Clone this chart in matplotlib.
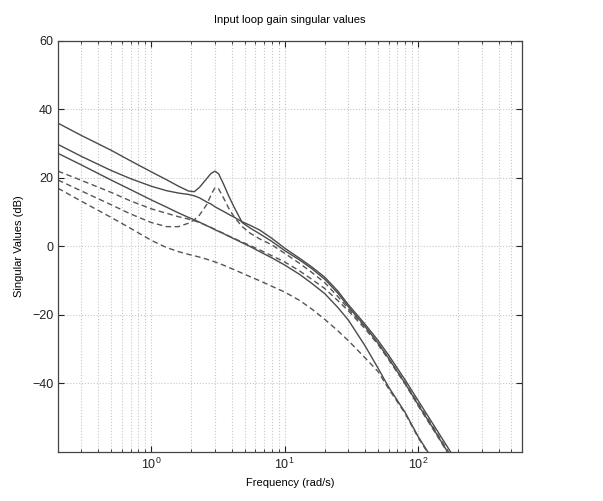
import matplotlib
matplotlib.use("Agg")
import matplotlib.pyplot as plt
from matplotlib.ticker import LogLocator, NullFormatter

plt.rcParams['font.family'] = ['Liberation Sans', 'DejaVu Sans']

# frequency grid (rad/s) at which values were read
freq = [0.2, 0.3, 0.5, 0.7, 1.0, 1.3, 1.6, 1.9, 2.1, 2.3, 2.6, 2.8, 3.0, 3.2,
        3.5, 3.8, 4.2, 4.8, 5.5, 6.5, 8, 10, 13, 16, 20, 25, 30, 40, 50, 60,
        80, 100, 130, 170, 250, 600]

# solid curves (dB)
s1 = [36.0, 32.4, 28.1, 25.0, 21.8, 19.5, 17.6, 16.2, 16.0, 17.3, 19.8, 21.3,
      22.0, 21.2, 18.0, 14.8, 11.3, 7.0, 5.4, 3.7, 1.5, -1.2, -4.0, -6.5,
      -9.6, -13.6, -17.6, -23.3, -28.2, -32.6, -40.0, -46.2, -53.2, -60.6,
      -71.0, -94.0]
s2 = [29.8, 26.3, 22.2, 19.8, 17.6, 16.3, 15.6, 15.2, 14.8, 14.2, 13.0, 12.4,
      11.6, 11.0, 10.2, 9.4, 8.5, 7.2, 6.2, 4.8, 2.4, -0.5, -3.5, -6.0,
      -9.0, -13.0, -17.0, -22.7, -27.4, -31.7, -39.0, -45.0, -52.0, -59.2,
      -69.5, -92.0]
s3 = [27.2, 23.8, 19.4, 16.6, 13.6, 11.5, 9.8, 8.5, 7.8, 7.1, 6.1, 5.5,
      4.9, 4.4, 3.7, 3.0, 2.2, 1.1, 0.0, -1.5, -3.3, -5.4, -8.2, -10.8,
      -13.8, -17.8, -21.5, -29.0, -35.5, -41.0, -48.5, -55.5, -62.5, -69.0,
      -78.0, -100.0]

# dashed curves (dB)
d1 = [22.0, 19.3, 15.8, 13.3, 11.0, 9.7, 8.7, 8.0, 7.5, 7.0, 6.1, 5.6,
      5.0, 4.5, 3.8, 3.1, 2.3, 1.3, 0.3, -1.0, -2.7, -4.5, -7.2, -9.6,
      -12.3, -15.8, -18.8, -24.0, -28.6, -33.0, -40.2, -46.5, -53.5, -60.8,
      -71.0, -94.0]
d2 = [19.4, 16.2, 12.2, 9.5, 7.0, 5.8, 5.8, 6.8, 7.8, 9.2, 12.2, 15.0,
      17.2, 16.8, 14.0, 11.2, 8.5, 5.8, 3.9, 2.2, 0.5, -2.0, -5.0, -7.6,
      -10.6, -14.6, -18.2, -23.5, -28.2, -32.6, -39.8, -45.8, -52.8, -60.2,
      -70.5, -93.0]
d3 = [17.0, 13.2, 8.5, 5.3, 1.8, -0.3, -1.5, -2.3, -2.7, -3.1, -3.7, -4.1,
      -4.5, -4.9, -5.5, -6.1, -6.8, -7.8, -8.8, -10.0, -11.6, -13.3, -15.8,
      -18.3, -21.3, -24.6, -27.5, -32.5, -36.5, -41.5, -48.8, -55.8, -62.8,
      -69.0, -79.0, -100.0]

yticks = [-40, -20, 0, 20, 40, 60]

fig = plt.figure(figsize=(6.03, 5.01), dpi=100)
ax = fig.add_axes([58/603, 1-452/501, (522-58)/603, (452-41)/501])

solid_color = '#4a4a4a'
dash_color = '#555555'
for y in (s1, s2, s3):
    ax.plot(freq, y, color=solid_color, lw=1.0)
for y in (d1, d2, d3):
    ax.plot(freq, y, color=dash_color, lw=1.0, linestyle=(0, (4, 2.5)))

ax.set_xscale('log')
ax.set_xlim(0.2, 600)
ax.set_ylim(-60, 60)
ax.set_yticks(yticks)
ax.xaxis.set_major_locator(LogLocator(base=10, numticks=10))
ax.xaxis.set_minor_locator(LogLocator(base=10, subs=range(2, 10), numticks=20))
ax.xaxis.set_minor_formatter(NullFormatter())

ax.grid(True, which='major', axis='both', color='#c8c8c8', linestyle=':', lw=0.8)
ax.grid(True, which='minor', axis='x', color='#c8c8c8', linestyle=':', lw=0.8)
ax.set_axisbelow(True)

ax.tick_params(which='both', direction='in', top=True, right=True,
               labelsize=9, colors='#222222')
ax.tick_params(which='major', length=4, width=0.8)
ax.tick_params(which='minor', length=2.5, width=0.6)
for sp in ax.spines.values():
    sp.set_color('#444444')
    sp.set_linewidth(0.9)

ax.set_xlabel('Frequency (rad/s)', fontsize=8, labelpad=4)
ax.set_ylabel('Singular Values (dB)', fontsize=8, labelpad=6)
ax.set_title('Input loop gain singular values', fontsize=8, pad=13)

fig.savefig('out.png', dpi=100)
